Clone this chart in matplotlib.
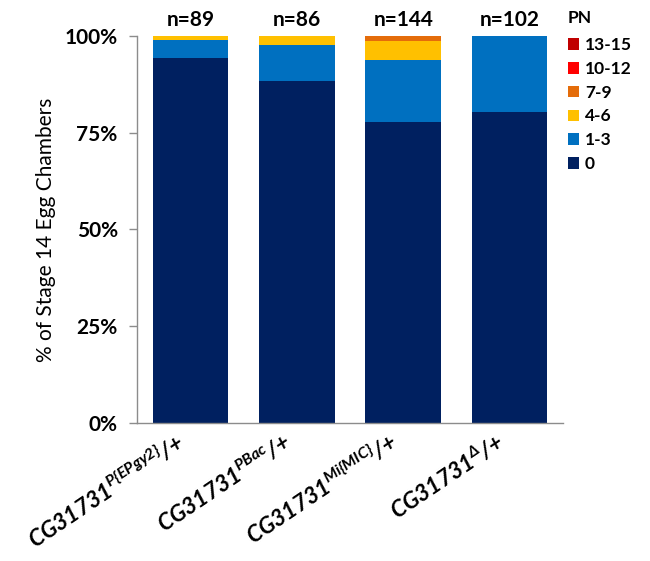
import matplotlib
matplotlib.use("Agg")
import matplotlib.pyplot as plt
import numpy as np

# Egg chamber counts per genotype, split by PN class
genotypes = [r"$\mathrm{CG31731}^{\mathrm{P\{EPgy2\}}}\mathrm{/}{+}$",
             r"$\mathrm{CG31731}^{\mathrm{PBac}}\mathrm{/}{+}$",
             r"$\mathrm{CG31731}^{\mathrm{Mi\{MIC\}}}\mathrm{/}{+}$",
             r"$\mathrm{CG31731}^{\Delta}\mathrm{/}{+}$"]
n_totals = [89, 86, 144, 102]
pn_classes = ["0", "1-3", "4-6", "7-9", "10-12", "13-15"]
counts_0 = [84, 76, 112, 82]
counts_1_3 = [4, 8, 23, 20]
counts_4_6 = [1, 2, 7, 0]
counts_7_9 = [0, 0, 2, 0]
counts_10_12 = [0, 0, 0, 0]
counts_13_15 = [0, 0, 0, 0]
colors = ["#002060", "#0070C0", "#FFC000", "#E46C0A", "#FF0000", "#C00000"]

plt.rcParams["font.family"] = ["Lato", "DejaVu Sans"]
plt.rcParams["mathtext.fontset"] = "custom"
plt.rcParams["mathtext.rm"] = "Lato:bold:italic"
plt.rcParams["mathtext.it"] = "Lato:bold:italic"
plt.rcParams["mathtext.bf"] = "Lato:bold:italic"
plt.rcParams["mathtext.fallback"] = "stixsans"

fig = plt.figure(figsize=(6.5, 5.61), dpi=100)
ax = fig.add_axes([0.211, 0.246, 0.655, 0.690])

x = np.arange(len(genotypes))
series = [counts_0, counts_1_3, counts_4_6, counts_7_9, counts_10_12, counts_13_15]
totals = np.array(n_totals, dtype=float)
bottom = np.zeros(len(genotypes))
handles = []
for vals, col, lab in zip(series, colors, pn_classes):
    pct = np.array(vals) / totals * 100
    h = ax.bar(x, pct, width=0.71, bottom=bottom, color=col, label=lab,
               edgecolor="none")
    handles.append(h)
    bottom += pct

ax.set_xlim(-0.5, 3.5)
ax.set_ylim(0, 100)
ax.set_yticks([0, 25, 50, 75, 100])
ax.set_yticklabels(["0%", "25%", "50%", "75%", "100%"], fontsize=15,
                   fontweight="bold")
ax.set_ylabel("% of Stage 14 Egg Chambers", fontsize=15, labelpad=6)

for s in ["top", "right"]:
    ax.spines[s].set_visible(False)
for s in ["left", "bottom"]:
    ax.spines[s].set_color("#8C8C8C")
    ax.spines[s].set_linewidth(1.0)
ax.tick_params(axis="y", direction="out", length=6, color="#8C8C8C", width=1,
               pad=8)
ax.tick_params(axis="x", length=0)
ax.set_xticks(x)
ax.set_xticklabels([])

for xi, lab in zip(x, genotypes):
    ax.annotate(lab, xy=(xi, 0), xycoords="data", xytext=(-6, -12),
                textcoords="offset points", rotation=34, ha="right",
                va="center", rotation_mode="anchor", fontsize=16.5)

for xi, n in zip(x, n_totals):
    ax.text(xi, 101.5, f"n={n}", ha="center", va="bottom", fontsize=15,
            fontweight="bold")

leg = ax.legend(handles=handles[::-1], labels=pn_classes[::-1], title="PN",
                loc="upper left", bbox_to_anchor=(0.995, 1.085), frameon=False,
                handlelength=0.65, handleheight=0.65, handletextpad=0.35,
                labelspacing=0.45, prop={"weight": "bold", "size": 12.5},
                alignment="left", borderaxespad=0.0)
leg.get_title().set_fontweight("bold")
leg.get_title().set_fontsize(12.5)
leg._legend_box.sep = 8

fig.savefig("out.png", dpi=100)
